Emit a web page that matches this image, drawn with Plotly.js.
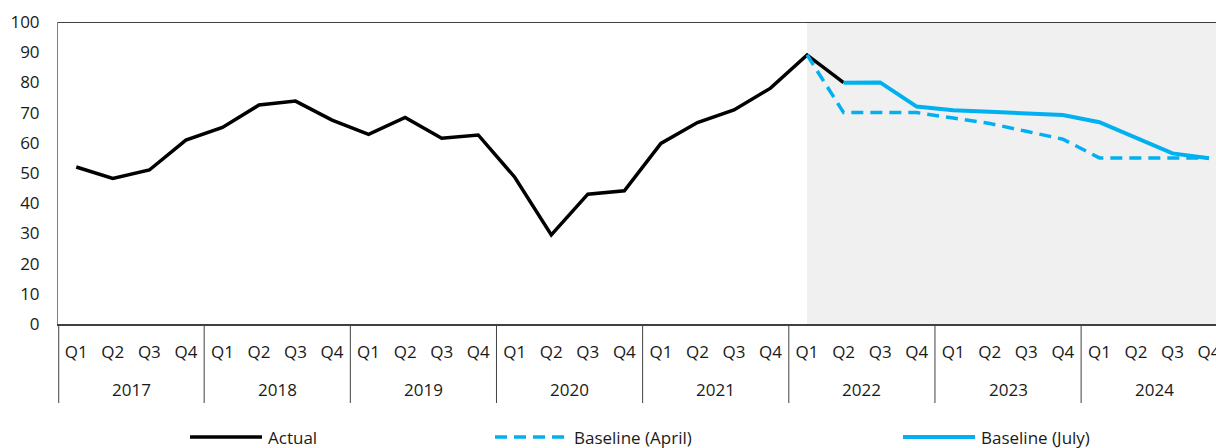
<!DOCTYPE html>
<html>
<head>
<meta charset="utf-8">
<script src="https://cdn.plot.ly/plotly-3.0.1.min.js"></script>
<style>
html,body{margin:0;padding:0;background:#fff;}
#chart{width:1216px;height:448px;}
</style>
</head>
<body>
<div id="chart"></div>
<script>
// ---- data ----
const years = ['2017','2018','2019','2020','2021','2022','2023','2024'];
const quarters = ['Q1','Q2','Q3','Q4'];
// Actual: 2017 Q1 .. 2022 Q2
const actual = [52, 48.2, 51, 60.9, 65.1, 72.5, 73.8, 67.5, 62.8, 68.4, 61.5, 62.6,
                48.6, 29.5, 43, 44.1, 59.8, 66.7, 70.9, 78.1, 89.1, 79.9];
// Baseline (April): 2022 Q1 .. 2024 Q4
const baselineApril = [89.1, 70, 70, 70, 68.2, 66.4, 63.8, 61.2, 55, 55, 55, 55];
// Baseline (July): 2022 Q2 .. 2024 Q4
const baselineJuly = [79.9, 80, 72, 70.8, 70.3, 69.8, 69.2, 66.8, 61.7, 56.5, 54.9];
const seriesNames = ['Actual', 'Baseline (April)', 'Baseline (July)'];
const forecastStart = ['2022','Q1'];

// ---- categories ----
const cats = [], catQuarter = [];
years.forEach(y => quarters.forEach(q => { cats.push(y + ' ' + q); catQuarter.push(q); }));
function idx(y, q){ return cats.indexOf(y + ' ' + q); }

const iApril = idx('2022','Q1');
const iJuly = idx('2022','Q2');
const iShade = idx(forecastStart[0], forecastStart[1]);

const font = 'Open Sans, Noto Sans, sans-serif';
const txt = '#1a1a1a';
const blue = '#00b0f0';
const styles = [
  {color: '#000000', width: 3.5, dash: 'solid'},
  {color: blue, width: 3.5, dash: '12px,7px'},
  {color: blue, width: 4, dash: 'solid'}
];

const traces = [
  {x: cats.slice(0, actual.length), y: actual, name: seriesNames[0], type: 'scatter', mode: 'lines', line: styles[0]},
  {x: cats.slice(iApril, iApril + baselineApril.length), y: baselineApril, name: seriesNames[1], type: 'scatter', mode: 'lines', line: styles[1]},
  {x: cats.slice(iJuly, iJuly + baselineJuly.length), y: baselineJuly, name: seriesNames[2], type: 'scatter', mode: 'lines', line: styles[2]}
];

// ---- geometry ----
const W = 1216, H = 448, ml = 58, mt = 22, mb = 124;
const plotW = W - ml, plotH = H - mt - mb;
const quarterPx = 36.54;
const xEnd = -0.5 + plotW / quarterPx;
function pxX(px){ return (px - ml) / plotW; }
function pxY(py){ return (H - mb - py) / plotH; }

const shapes = [
  {type: 'rect', xref: 'x', yref: 'y', x0: iShade, x1: cats.length + 1, y0: 0, y1: 100,
   fillcolor: '#f0f0f0', line: {width: 0}, layer: 'below'},
  {type: 'line', xref: 'paper', yref: 'y', x0: 0, x1: 1, y0: 100, y1: 100,
   line: {color: '#000000', width: 1.5}, layer: 'above'}
];
const annotations = [];

// year group dividers and labels
for (let i = 0; i <= years.length; i++) {
  const xd = i * quarters.length - 0.5 + (i === 0 ? 0.02 : 0);
  shapes.push({type: 'line', xref: 'x', yref: 'paper', x0: xd, x1: xd, y0: 0, y1: pxY(403),
               line: {color: '#404040', width: 1}});
}
years.forEach((y, i) => {
  annotations.push({xref: 'x', yref: 'paper', x: i * quarters.length + (quarters.length - 1) / 2, y: pxY(389),
                    text: y, showarrow: false, xanchor: 'center', yanchor: 'middle',
                    font: {family: font, size: 17, color: txt}});
});

// legend (drawn beneath the axis, as in the reference)
const legendItems = [
  {x0: 190, x1: 262, tx: 266},
  {x0: 495, x1: 568, tx: 572},
  {x0: 903, x1: 975, tx: 979}
];
const legY = pxY(437);
legendItems.forEach((it, k) => {
  shapes.push({type: 'line', xref: 'paper', yref: 'paper', x0: pxX(it.x0), x1: pxX(it.x1), y0: legY, y1: legY,
               line: {color: styles[k].color, width: styles[k].width, dash: styles[k].dash}});
  annotations.push({xref: 'paper', yref: 'paper', x: pxX(it.tx), y: legY, text: seriesNames[k],
                    showarrow: false, xanchor: 'left', yanchor: 'middle',
                    font: {family: font, size: 17, color: txt}});
});

const layout = {
  width: W, height: H,
  margin: {l: ml, r: 0, t: mt, b: mb, pad: 0},
  paper_bgcolor: '#ffffff', plot_bgcolor: '#ffffff',
  font: {family: font, size: 17, color: txt},
  showlegend: false,
  xaxis: {
    type: 'category', categoryorder: 'array', categoryarray: cats,
    tickmode: 'array', tickvals: cats, ticktext: catQuarter,
    range: [-0.5, xEnd],
    showline: true, linecolor: '#404040', linewidth: 2,
    showgrid: false, zeroline: false,
    ticks: '', ticklabelstandoff: 12,
    tickfont: {family: font, size: 17, color: txt}
  },
  yaxis: {
    range: [0, 100], dtick: 10, tick0: 0,
    showline: true, linecolor: '#808080', linewidth: 1,
    showgrid: false, zeroline: false,
    ticks: '', ticklabelstandoff: 14,
    tickfont: {family: font, size: 17, color: txt}
  },
  shapes: shapes,
  annotations: annotations
};

Plotly.newPlot('chart', traces, layout, {staticPlot: true, displayModeBar: false});
</script>
</body>
</html>
